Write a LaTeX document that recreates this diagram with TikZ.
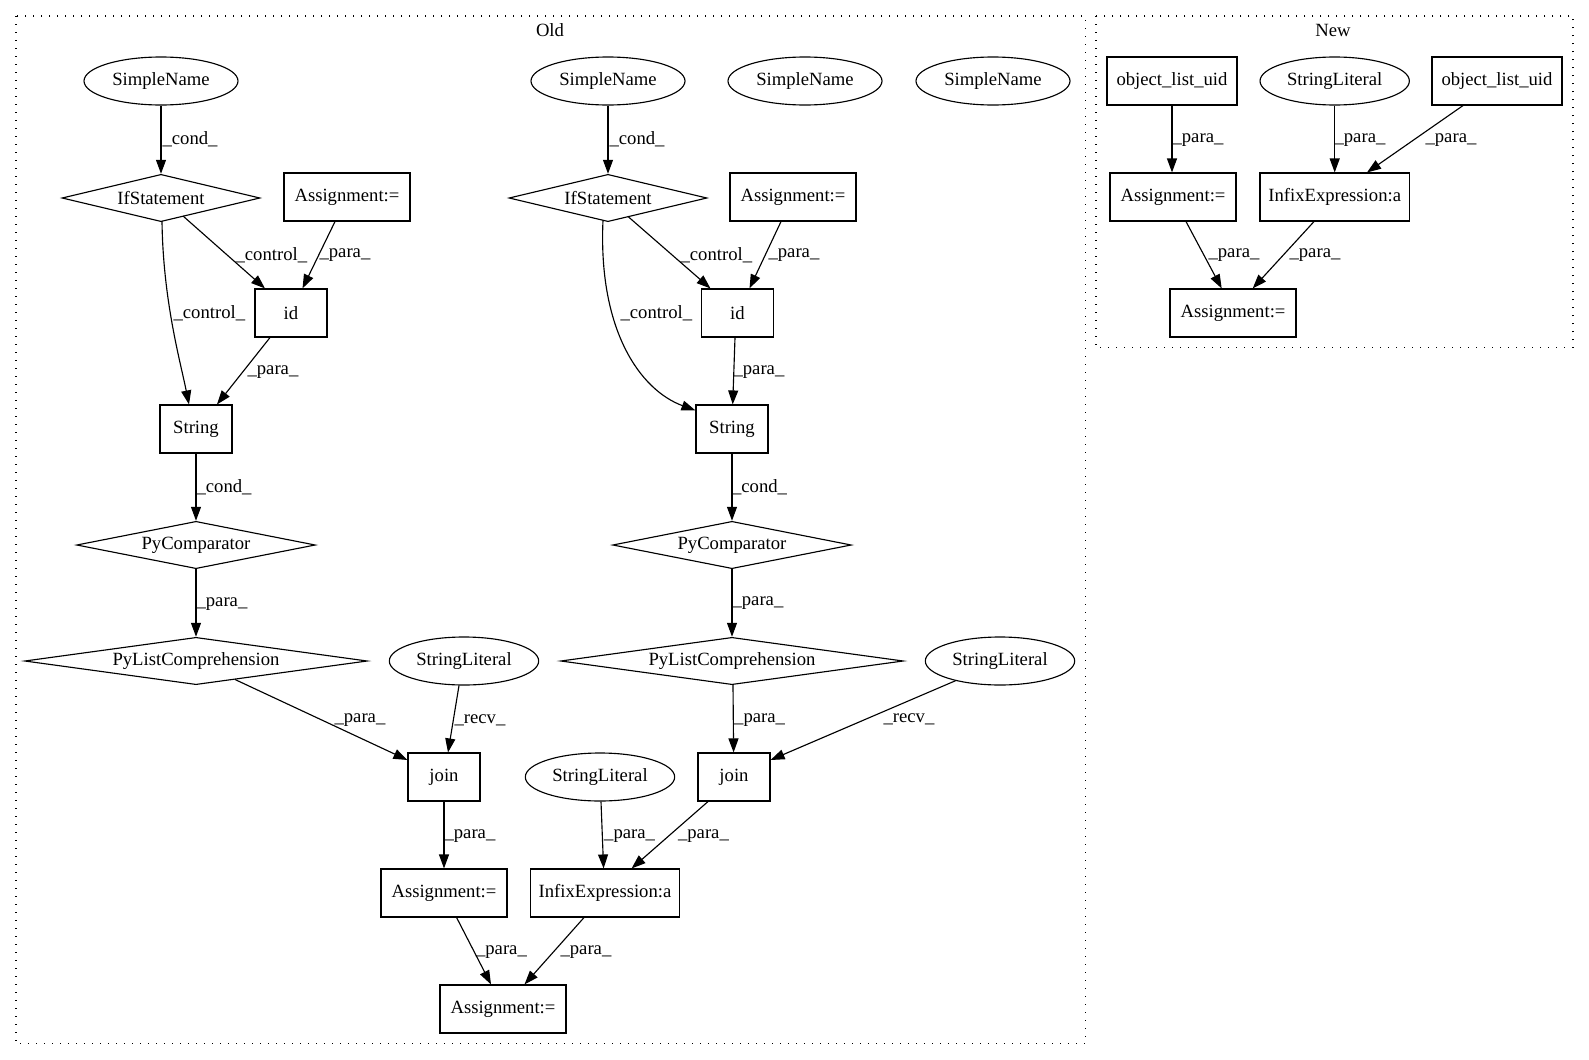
\documentclass[tikz,border=0pt]{standalone}
\usepackage{fontspec}
\setmainfont{Liberation Serif}
\usetikzlibrary{shapes.geometric,arrows.meta}
\begin{document}
\begin{tikzpicture}[x=0.75pt,y=-0.75pt,
  font=\fontsize{14}{16}\selectfont,
  box/.style={draw, rectangle, line width=0.85pt, minimum height=36pt, inner sep=0pt},
  ell/.style={draw, ellipse, line width=0.85pt, minimum height=36pt, inner sep=0pt},
  dia/.style={draw, diamond, line width=0.85pt, minimum height=35.5pt, inner sep=0pt, aspect=5},
  e/.style={-{Triangle[length=10.5pt,width=7.5pt]}, line width=0.85pt},
  lab/.style={anchor=west, inner sep=0pt},
  clus/.style={line width=0.9pt, dash pattern=on 0.8pt off 5.2pt}]
\useasboundingbox (0,0) rectangle (1589,1060);
% clusters
\draw[clus] (16,16) rectangle (1085.5,1043.6);
\draw[clus] (1096,16) rectangle (1573,347.7);
\node (tOld) at (550,30) {Old};
\node (tNew) at (1333,30) {New};
% Old nodes
\node[ell, minimum width=115.5pt] (sn1) at (161,81) {SimpleName};
\node[ell, minimum width=115.5pt] (sn2) at (608,81) {SimpleName};
\node[ell, minimum width=115.5pt] (sn3) at (805,81) {SimpleName};
\node[ell, minimum width=115.5pt] (sn4) at (993,81) {SimpleName};
\node[dia, minimum width=148.5pt] (if1) at (161,198) {IfStatement};
\node[dia, minimum width=148.5pt] (if2) at (608,198) {IfStatement};
\node[box, minimum width=94.5pt] (as1) at (347,197) {Assignment:=};
\node[box, minimum width=94.5pt] (as2) at (793,197) {Assignment:=};
\node[box, minimum width=54pt] (id1) at (291,313) {id};
\node[box, minimum width=54pt] (id2) at (737.5,313) {id};
\node[box, minimum width=54pt] (str1) at (196,429) {String};
\node[box, minimum width=54pt] (str2) at (732,429) {String};
\node[dia, minimum width=179pt] (pc1) at (196,545) {PyComparator};
\node[dia, minimum width=179pt] (pc2) at (732,545) {PyComparator};
\node[dia, minimum width=257pt, aspect=7] (plc1) at (196,661) {PyListComprehension};
\node[dia, minimum width=257pt, aspect=7] (plc2) at (732,661) {PyListComprehension};
\node[ell, minimum width=112pt] (sl1) at (464,661) {StringLiteral};
\node[ell, minimum width=112pt] (sl3) at (1000,661) {StringLiteral};
\node[box, minimum width=54pt] (join1) at (444,777) {join};
\node[box, minimum width=54pt] (join2) at (734,777) {join};
\node[ell, minimum width=112pt] (sl2) at (600,777) {StringLiteral};
\node[box, minimum width=94.5pt] (as3) at (444,893) {Assignment:=};
\node[box, minimum width=112pt] (inf1) at (605,893) {InfixExpression:a};
\node[box, minimum width=94.5pt] (as4) at (503,1009) {Assignment:=};
% New nodes
\node[box, minimum width=97.5pt] (o1) at (1172,81) {object\_list\_uid};
\node[ell, minimum width=112pt] (sln) at (1334.7,81) {StringLiteral};
\node[box, minimum width=97.5pt] (o2) at (1497,81) {object\_list\_uid};
\node[box, minimum width=94.5pt] (an1) at (1173,197) {Assignment:=};
\node[box, minimum width=112pt] (infn) at (1334.7,197) {InfixExpression:a};
\node[box, minimum width=94.5pt] (an2) at (1233,313) {Assignment:=};
% Old edges
\draw[e] (sn1) -- (if1) node[lab] at (162,139) {\_cond\_};
\draw[e] ([shift={(22,18)}]if1.center) -- ([shift={(-26,0)}]id1.north) node[lab] at (235,255) {\_control\_};
\draw[e] ([shift={(-12,0)}]as1.south) -- ([shift={(11.5,0)}]id1.north) node[lab] at (319,255) {\_para\_};
\draw[e] ([shift={(1,23)}]if1.center) .. controls (163,300) and (180,360) .. ([shift={(-7,0)}]str1.north) node[lab] at (173,313) {\_control\_};
\draw[e] ([shift={(-21,0)}]id1.south) -- ([shift={(21,0)}]str1.north) node[lab] at (247,372) {\_para\_};
\draw[e] (str1) -- (pc1) node[lab] at (196,487) {\_cond\_};
\draw[e] (pc1) -- (plc1) node[lab] at (196,604) {\_para\_};
\draw[e] ([shift={(39,18.5)}]plc1.center) -- ([shift={(0,-17)}]join1.west) node[lab] at (334,720) {\_para\_};
\draw[e] ([shift={(-5,0)}]sl1.south) -- ([shift={(4,0)}]join1.north) node[lab] at (454,720) {\_recv\_};
\draw[e] (join1) -- (as3) node[lab] at (444,836) {\_para\_};
\draw[e] ([shift={(1,0)}]sl2.south) -- ([shift={(-1.4,0)}]inf1.north) node[lab] at (603.6,836) {\_para\_};
\draw[e] ([shift={(-26,0)}]join2.south) -- ([shift={(26.6,0)}]inf1.north) node[lab] at (677.5,836) {\_para\_};
\draw[e] ([shift={(12.6,0)}]as3.south) -- ([shift={(-12,0)}]as4.north) node[lab] at (475.5,952) {\_para\_};
\draw[e] ([shift={(-21,0)}]inf1.south) -- ([shift={(21.5,0)}]as4.north) node[lab] at (560,952) {\_para\_};
\draw[e] (sn2) -- (if2) node[lab] at (609,139) {\_cond\_};
\draw[e] ([shift={(20,18.5)}]if2.center) -- ([shift={(-27,0)}]id2.north) node[lab] at (680,255) {\_control\_};
\draw[e] ([shift={(-12,0)}]as2.south) -- ([shift={(12,0)}]id2.north) node[lab] at (768,255) {\_para\_};
\draw[e] ([shift={(-5,22.3)}]if2.center) .. controls (598,330) and (640,390) .. ([shift={(0,6)}]str2.north west) node[lab] at (620,313) {\_control\_};
\draw[e] ([shift={(-2.5,0)}]id2.south) -- ([shift={(0.7,0)}]str2.north) node[lab] at (733,372) {\_para\_};
\draw[e] (str2) -- (pc2) node[lab] at (731.5,487) {\_cond\_};
\draw[e] (pc2) -- (plc2) node[lab] at (732,603) {\_para\_};
\draw[e] ([shift={(1,0)}]plc2.south) -- ([shift={(-0.4,0)}]join2.north) node[lab] at (733.6,720) {\_para\_};
\draw[e] ([shift={(-44,19.5)}]sl3.center) -- ([shift={(0,-17)}]join2.east) node[lab] at (883,719) {\_recv\_};
% New edges
\draw[e] (o1.south) -- (o1.south |- an1.north) node[lab] at (1172,140) {\_para\_};
\draw[e] (sln) -- (infn) node[lab] at (1334,140) {\_para\_};
\draw[e] ([shift={(-34,0)}]o2.south) -- ([shift={(32.3,0)}]infn.north) node[lab] at (1425,140) {\_para\_};
\draw[e] ([shift={(13,0)}]an1.south) -- ([shift={(-11.3,0)}]an2.north) node[lab] at (1208,255) {\_para\_};
\draw[e] ([shift={(-20.7,0)}]infn.south) -- ([shift={(19.7,0)}]an2.north) node[lab] at (1289,255) {\_para\_};
\end{tikzpicture}
\end{document}
